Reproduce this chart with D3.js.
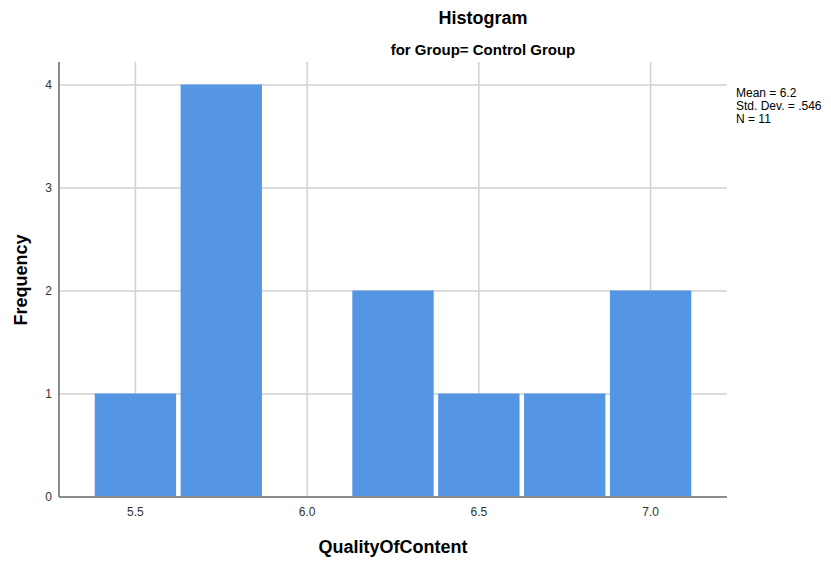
<!DOCTYPE html>
<html>
<head>
<meta charset="utf-8">
<script src="https://cdn.jsdelivr.net/npm/d3@7"></script>
<style>
  body { margin: 0; background: #fff; }
  svg { display: block; font-family: "Liberation Sans", Arial, sans-serif; }
</style>
</head>
<body>
<svg id="chart" width="831" height="561"></svg>
<script>
// Histogram of QualityOfContent for the control group (bin width 0.25)
const binCenters = [5.5, 5.75, 6.0, 6.25, 6.5, 6.75, 7.0];
const binCounts  = [1, 4, 0, 2, 1, 1, 2];
const binWidth = 0.25;
const xTicks = [5.5, 6.0, 6.5, 7.0];
const yTicks = [0, 1, 2, 3, 4];
const statsLines = ["Mean = 6.2", "Std. Dev. = .546", "N = 11"];

const svg = d3.select("#chart");
const plotL = 59, plotR = 727, plotT = 62, plotB = 497;
const barGap = 4.5;

const x = d3.scaleLinear().domain([5.2775, 7.2225]).range([plotL, plotR]);
const y = d3.scaleLinear().domain([0, 4.223]).range([plotB, plotT]);

// Gridlines
svg.append("g").selectAll("line").data(xTicks).join("line")
  .attr("x1", d => x(d)).attr("x2", d => x(d))
  .attr("y1", plotT).attr("y2", plotB)
  .attr("stroke", "#d0d0d0").attr("stroke-width", 1.5);
svg.append("g").selectAll("line").data(yTicks.filter(d => d > 0)).join("line")
  .attr("x1", plotL).attr("x2", plotR)
  .attr("y1", d => y(d)).attr("y2", d => y(d))
  .attr("stroke", "#d0d0d0").attr("stroke-width", 1.5);

// Bars, separated by a thin white gap
const bins = binCenters.map((c, i) => ({ x0: c - binWidth / 2, x1: c + binWidth / 2, n: binCounts[i] }));
svg.append("g").selectAll("rect").data(bins.filter(d => d.n > 0)).join("rect")
  .attr("x", d => x(d.x0) + barGap / 2)
  .attr("width", d => x(d.x1) - x(d.x0) - barGap)
  .attr("y", d => y(d.n) - 0.5)
  .attr("height", d => y(0) - y(d.n) + 0.5)
  .attr("fill", "#5596e4");

// Axis lines
svg.append("line").attr("x1", plotL).attr("x2", plotL).attr("y1", plotT).attr("y2", plotB)
  .attr("stroke", "#8c8c8c").attr("stroke-width", 2);
svg.append("line").attr("x1", plotL).attr("x2", plotR).attr("y1", plotB).attr("y2", plotB)
  .attr("stroke", "#8c8c8c").attr("stroke-width", 2);

// Tick labels
svg.append("g").selectAll("text").data(xTicks).join("text")
  .attr("x", d => x(d)).attr("y", 516)
  .attr("text-anchor", "middle").attr("font-size", 12).attr("fill", "#333")
  .text(d => d3.format(".1f")(d));
svg.append("g").selectAll("text").data(yTicks).join("text")
  .attr("x", 52).attr("y", d => y(d) + 4)
  .attr("text-anchor", "end").attr("font-size", 12).attr("fill", "#333")
  .text(d => d);

// Titles
svg.append("text").attr("x", 483).attr("y", 24).attr("text-anchor", "middle")
  .attr("font-size", 18).attr("font-weight", "bold").attr("fill", "#000").text("Histogram");
svg.append("text").attr("x", 483).attr("y", 55).attr("text-anchor", "middle")
  .attr("font-size", 15).attr("font-weight", "bold").attr("fill", "#000").text("for Group= Control Group");

// Axis titles
svg.append("text").attr("x", 393).attr("y", 553).attr("text-anchor", "middle")
  .attr("font-size", 18).attr("font-weight", "bold").attr("fill", "#000").text("QualityOfContent");
svg.append("text").attr("transform", "translate(27,280) rotate(-90)").attr("text-anchor", "middle")
  .attr("font-size", 18).attr("font-weight", "bold").attr("fill", "#000").text("Frequency");

// Summary statistics
svg.append("g").selectAll("text").data(statsLines).join("text")
  .attr("x", 736).attr("y", (d, i) => 97 + i * 13)
  .attr("font-size", 12).attr("fill", "#000").text(d => d);
</script>
</body>
</html>
